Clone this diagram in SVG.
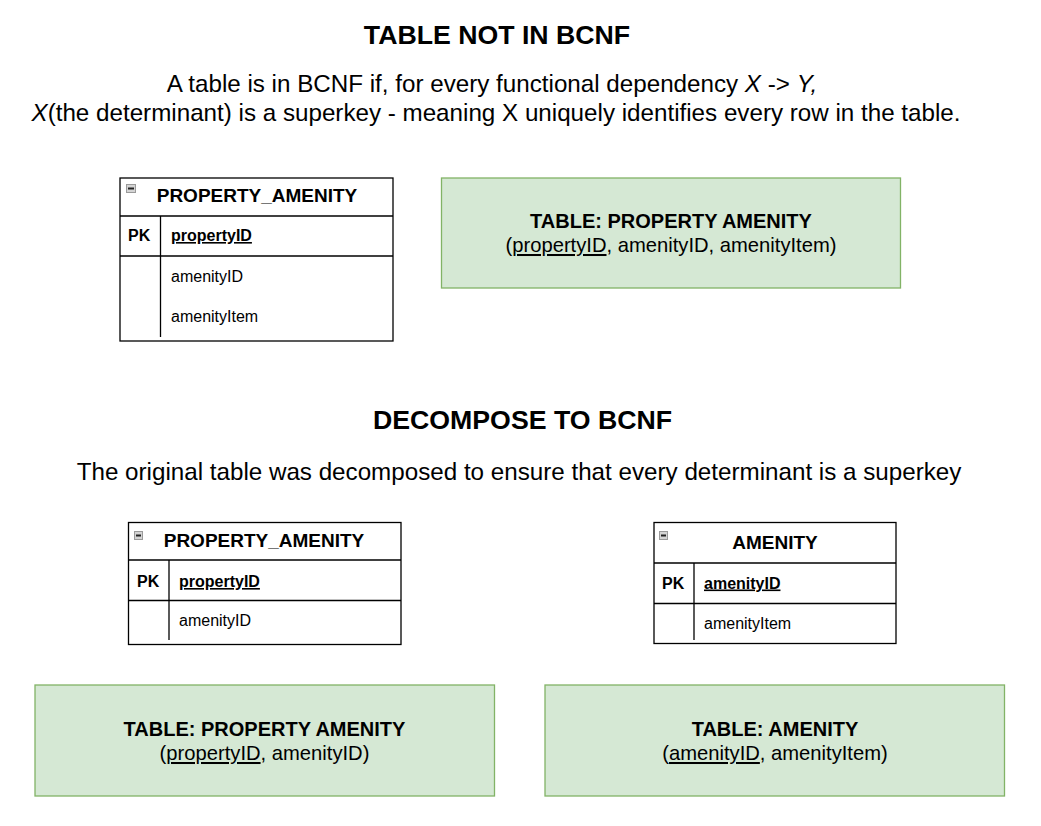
<svg xmlns="http://www.w3.org/2000/svg" width="1041" height="826" viewBox="0 0 1041 826">
<style>
text { font-family: "Liberation Sans", Arial, sans-serif; fill: #000; }
.h { font-size: 26.7px; font-weight: bold; text-anchor: middle; }
.body { font-size: 24.2px; text-anchor: middle; }
.tt { font-size: 19px; font-weight: bold; text-anchor: middle; }
.pk { font-size: 16px; font-weight: bold; }
.key { font-size: 16px; font-weight: bold; text-decoration: underline; }
.fld { font-size: 16px; }
.gt { font-size: 20px; font-weight: bold; text-anchor: middle; }
.gs { font-size: 20.2px; text-anchor: middle; }
.u { text-decoration: underline; }
.tbl { fill: #fff; stroke: #000; stroke-width: 1.3; }
.ln { stroke: #000; stroke-width: 1.3; fill: none; }
.grn { fill: #d5e8d4; stroke: #82b366; stroke-width: 1.3; }
.ico { fill: #d4d4d4; stroke: #9a9a9a; stroke-width: 1; }
.icl { stroke: #222; stroke-width: 2; }
</style>

<g id="headings">
<text class="h" x="497" y="44">TABLE NOT IN BCNF</text>
<text class="body" x="492" y="92">A table is in BCNF if, for every functional dependency <tspan font-style="italic">X</tspan> -&gt; <tspan font-style="italic">Y,</tspan></text>
<text class="body" x="496" y="121"><tspan font-style="italic">X</tspan>(the determinant) is a superkey - meaning X uniquely identifies every row in the table.</text>
<text class="h" x="522.5" y="429">DECOMPOSE TO BCNF</text>
<text class="body" x="519" y="480">The original table was decomposed to ensure that every determinant is a superkey</text>
</g>

<g id="table1">
<rect class="tbl" x="120" y="178" width="273" height="163"/>
<line class="ln" x1="120" y1="216" x2="393" y2="216"/>
<line class="ln" x1="120" y1="256" x2="393" y2="256"/>
<line class="ln" x1="160.5" y1="216" x2="160.5" y2="337"/>
<rect class="ico" x="126.5" y="184.5" width="9" height="8"/>
<line class="icl" x1="128" y1="188.5" x2="134" y2="188.5"/>
<text class="tt" x="257" y="202">PROPERTY_AMENITY</text>
<text class="pk" x="128" y="241">PK</text>
<text class="key" x="171" y="241">propertyID</text>
<text class="fld" x="171" y="282">amenityID</text>
<text class="fld" x="171" y="322">amenityItem</text>
</g>

<g id="box1">
<rect class="grn" x="441.5" y="178" width="459" height="110"/>
<text class="gt" x="671" y="228">TABLE: PROPERTY AMENITY</text>
<text class="gs" x="671" y="252">(<tspan class="u">propertyID</tspan>, amenityID, amenityItem)</text>
</g>

<g id="table2">
<rect class="tbl" x="128.5" y="522.5" width="272.5" height="122"/>
<line class="ln" x1="128.5" y1="560" x2="401" y2="560"/>
<line class="ln" x1="128.5" y1="600.5" x2="401" y2="600.5"/>
<line class="ln" x1="169" y1="560" x2="169" y2="640"/>
<rect class="ico" x="134.5" y="531.5" width="8" height="8"/>
<line class="icl" x1="136" y1="535.5" x2="141" y2="535.5"/>
<text class="tt" x="264" y="547">PROPERTY_AMENITY</text>
<text class="pk" x="137" y="587">PK</text>
<text class="key" x="179" y="587">propertyID</text>
<text class="fld" x="179" y="626">amenityID</text>
</g>

<g id="table3">
<rect class="tbl" x="654" y="522.5" width="242" height="121"/>
<line class="ln" x1="654" y1="563" x2="896" y2="563"/>
<line class="ln" x1="654" y1="603.5" x2="896" y2="603.5"/>
<line class="ln" x1="694" y1="563" x2="694" y2="640"/>
<rect class="ico" x="659.5" y="531.5" width="8" height="8"/>
<line class="icl" x1="661" y1="535.5" x2="666" y2="535.5"/>
<text class="tt" x="775" y="549">AMENITY</text>
<text class="pk" x="662" y="588.5">PK</text>
<text class="key" x="704" y="588.5">amenityID</text>
<text class="fld" x="704" y="629">amenityItem</text>
</g>

<g id="box2">
<rect class="grn" x="35" y="685" width="459.5" height="111"/>
<text class="gt" x="264.5" y="736">TABLE: PROPERTY AMENITY</text>
<text class="gs" x="264.5" y="760">(<tspan class="u">propertyID</tspan>, amenityID)</text>
</g>

<g id="box3">
<rect class="grn" x="545" y="685" width="459.5" height="111"/>
<text class="gt" x="775" y="736">TABLE: AMENITY</text>
<text class="gs" x="775" y="760">(<tspan class="u">amenityID</tspan>, amenityItem)</text>
</g>

<g id="connectors"></g>
</svg>
